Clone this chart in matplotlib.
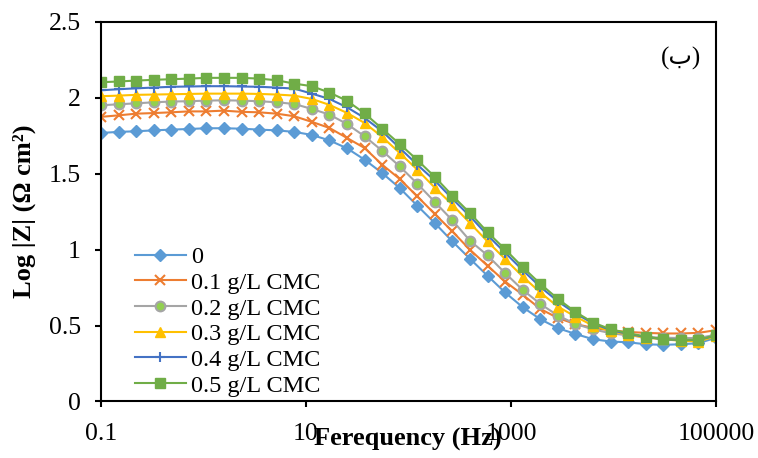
import matplotlib
matplotlib.use('Agg')
import matplotlib.pyplot as plt
from matplotlib.ticker import FixedLocator, NullLocator, FixedFormatter

plt.rcParams['font.family'] = ['Liberation Serif', 'DejaVu Sans']

# frequencies (Hz), log spaced sweep from 0.1 Hz to 100 kHz
freq = [0.1, 0.1484, 0.2202, 0.3268, 0.4850, 0.7197, 1.068, 1.585, 2.352, 3.490,
        5.179, 7.686, 11.41, 16.93, 25.12, 37.28, 55.32, 82.09, 121.8, 180.8,
        268.3, 398.1, 590.8, 876.7, 1301, 1931, 2865, 4252, 6310, 9363,
        13895, 20620, 30599, 45409, 67386, 100000]

z_0 = [1.769, 1.776, 1.780, 1.786, 1.791, 1.795, 1.800, 1.800, 1.797, 1.791, 1.786, 1.776,
       1.756, 1.72, 1.668, 1.593, 1.505, 1.406, 1.29,
       1.175, 1.054, 0.94, 0.828, 0.718, 0.621, 0.542, 0.483, 0.445,
       0.41, 0.395, 0.39, 0.377, 0.373, 0.377, 0.384, 0.42]
z_01 = [1.875, 1.885, 1.896, 1.90, 1.905, 1.911, 1.911, 1.916, 1.908, 1.905, 1.896, 1.879,
        1.842, 1.802, 1.736, 1.67, 1.56, 1.466, 1.351,
        1.235, 1.12, 0.999, 0.894, 0.79, 0.703, 0.61, 0.55, 0.51,
        0.485, 0.468, 0.458, 0.452, 0.448, 0.448, 0.452, 0.47]
z_02 = [1.951, 1.958, 1.964, 1.971, 1.976, 1.978, 1.982, 1.984, 1.982, 1.978, 1.971, 1.96,
        1.927, 1.89, 1.828, 1.747, 1.652, 1.549, 1.435,
        1.314, 1.193, 1.059, 0.962, 0.846, 0.735, 0.643, 0.566, 0.511,
        0.475, 0.45, 0.435, 0.425, 0.42, 0.418, 0.418, 0.44]
z_03 = [2.011, 2.015, 2.02, 2.022, 2.024, 2.026, 2.028, 2.028, 2.028, 2.026, 2.022, 2.015,
        1.993, 1.954, 1.901, 1.835, 1.743, 1.637, 1.527,
        1.408, 1.296, 1.175, 1.054, 0.938, 0.823, 0.718, 0.625, 0.559,
        0.50, 0.465, 0.44, 0.42, 0.41, 0.40, 0.395, 0.43]
z_04 = [2.05, 2.057, 2.063, 2.068, 2.073, 2.075, 2.077, 2.077, 2.075, 2.073, 2.068, 2.061,
        2.028, 1.993, 1.938, 1.868, 1.78, 1.67, 1.56,
        1.455, 1.335, 1.22, 1.095, 0.98, 0.865, 0.755, 0.66, 0.58,
        0.515, 0.47, 0.445, 0.425, 0.41, 0.405, 0.405, 0.435]
z_05 = [2.103, 2.108, 2.114, 2.119, 2.123, 2.127, 2.132, 2.132, 2.132, 2.127, 2.116, 2.094,
        2.077, 2.035, 1.981, 1.898, 1.797, 1.696, 1.591,
        1.479, 1.356, 1.241, 1.115, 1.002, 0.885, 0.775, 0.676, 0.59,
        0.52, 0.476, 0.45, 0.428, 0.41, 0.406, 0.406, 0.437]

labels = ['0', '0.1 g/L CMC', '0.2 g/L CMC', '0.3 g/L CMC', '0.4 g/L CMC', '0.5 g/L CMC']
xticks = [0.1, 10, 1000, 100000]
xticklabels = ['0.1', '10', '1000', '100000']
yticks = [0, 0.5, 1, 1.5, 2, 2.5]
yticklabels = ['0', '0.5', '1', '1.5', '2', '2.5']

fig = plt.figure(figsize=(7.58, 4.58), dpi=100)
ax = fig.add_axes([0.1332, 0.1234, 0.8114, 0.8286])

ax.plot(freq, z_0, color='#5B9BD5', lw=1.5, marker='D', ms=6, mec='#5B9BD5', mfc='#5B9BD5', label=labels[0])
ax.plot(freq, z_01, color='#ED7D31', lw=1.5, marker='x', ms=6.5, mew=1.5, label=labels[1])
ax.plot(freq, z_02, color='#A5A5A5', lw=1.5, marker='o', ms=7, mew=1.5, mec='#A5A5A5', mfc='#92D050', label=labels[2])
ax.plot(freq, z_03, color='#FFC000', lw=1.5, marker='^', ms=7, mec='#FFC000', mfc='#FFC000', label=labels[3])
ax.plot(freq, z_04, color='#4472C4', lw=1.5, marker='+', ms=7, mew=1.5, label=labels[4])
ax.plot(freq, z_05, color='#70AD47', lw=1.5, marker='s', ms=7, mec='#70AD47', mfc='#70AD47', label=labels[5])

ax.set_xscale('log')
ax.set_xlim(0.1, 100000)
ax.set_ylim(0, 2.5)
ax.xaxis.set_major_locator(FixedLocator(xticks))
ax.xaxis.set_major_formatter(FixedFormatter(xticklabels))
ax.xaxis.set_minor_locator(NullLocator())
ax.set_yticks(yticks)
ax.set_yticklabels(yticklabels)
ax.tick_params(axis='both', direction='out', length=4.5, width=1.5, labelsize=18.5)
ax.tick_params(axis='x', pad=11)
ax.tick_params(axis='y', pad=10)

for s in ax.spines.values():
    s.set_linewidth(1.5)
    s.set_color('black')

# x label sits on the tick label row, as in the original
ax.set_xlabel('Ferequency (Hz)', fontsize=19, fontweight='bold')
ax.xaxis.set_label_coords(0.499, -0.101)
ax.xaxis.label.set_va('center')
ax.set_ylabel('Log |Z| (Ω cm²)', fontsize=19, fontweight='bold')
ax.yaxis.set_label_coords(-0.124, 0.5)
ax.yaxis.label.set_va('center')

ax.text(0.943, 0.905, '(ب)', transform=ax.transAxes, fontsize=18, ha='center', va='center')

ax.legend(loc='lower left', bbox_to_anchor=(0.055, 0.013), frameon=False, fontsize=17.5,
          handlelength=2.1, handletextpad=0.2, labelspacing=0.15, borderpad=0, borderaxespad=0)

fig.savefig('out.png', dpi=100)
